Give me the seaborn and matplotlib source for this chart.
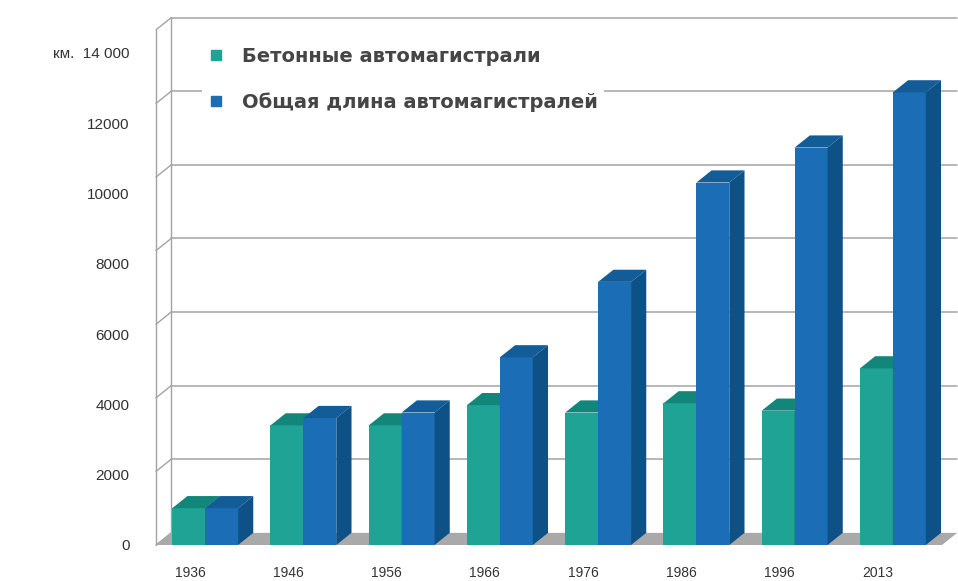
import matplotlib
matplotlib.use("Agg")
import matplotlib.pyplot as plt
from matplotlib.patches import Polygon
from matplotlib.lines import Line2D
import seaborn as sns
import pandas as pd

# Data: length of motorways, km
years = ["1936", "1946", "1956", "1966", "1976", "1986", "1996", "2013"]
concrete_km = [1000, 3250, 3250, 3800, 3600, 3850, 3650, 4800]
total_km = [1000, 3450, 3600, 5100, 7150, 9850, 10800, 12300]
series_names = ["Бетонные автомагистрали", "Общая длина автомагистралей"]
y_ticks = [0, 2000, 4000, 6000, 8000, 10000, 12000, 14000]
y_tick_labels = ["0", "2000", "4000", "6000", "8000", "10000", "12000", "км.  14 000"]

df = pd.DataFrame({
    "year": years * 2,
    "km": concrete_km + total_km,
    "series": [series_names[0]] * len(years) + [series_names[1]] * len(years),
})

TEAL = "#1ea395"
TEAL_TOP = "#13867a"
TEAL_SIDE = "#0f7a70"
BLUE = "#1b6db6"
BLUE_TOP = "#125c98"
BLUE_SIDE = "#0e5187"
GRID = "#a3a3a3"
TEXT = "#333333"

sns.set_theme(style="white")
plt.rcParams["font.family"] = ["Liberation Sans", "DejaVu Sans"]

W, H = 958, 581
fig = plt.figure(figsize=(W / 100, H / 100), dpi=100)
ax_left, ax_right, ax_bottom, ax_top = 156, 942, 545, 29.8
ax = fig.add_axes([ax_left / W, (H - ax_bottom) / H,
                   (ax_right - ax_left) / W, (ax_bottom - ax_top) / H])

sns.barplot(data=df, x="year", y="km", hue="series", order=years,
            hue_order=series_names, palette=[TEAL, BLUE], saturation=1,
            width=0.67, gap=0, legend=False, ax=ax)

ax.set_xlim(-0.5, 7.5)
ax.set_ylim(0, 14000)
for s in ax.spines.values():
    s.set_visible(False)
ax.set_ylabel("")
ax.set_xlabel("")
ax.set_yticks([])

# depth of the 3-D box, in data units
ddx = 0.155
ddy = 330

x0, x1 = -0.5, 7.5

# floor
ax.add_patch(Polygon([(x0, 0), (x1, 0), (x1 + ddx, ddy), (x0 + ddx, ddy)],
                     closed=True, facecolor="#a9a9a9", edgecolor="none",
                     zorder=1, clip_on=False))

# back wall grid and left wall
for v in y_ticks[1:]:
    ax.plot([x0 + ddx, x1 + ddx], [v + ddy, v + ddy], color=GRID, lw=1.1,
            zorder=0.5, clip_on=False)
for v in y_ticks:
    ax.plot([x0, x0 + ddx], [v, v + ddy], color=GRID, lw=1.0,
            zorder=0.6, clip_on=False)
ax.plot([x0, x0], [0, 14000], color=GRID, lw=1.0, zorder=0.6, clip_on=False)
ax.plot([x0 + ddx, x0 + ddx], [ddy, 14000 + ddy], color=GRID, lw=1.0,
        zorder=0.6, clip_on=False)

# 3-D tops and sides of the bars
face_styles = [(TEAL_TOP, TEAL_SIDE, 3), (BLUE_TOP, BLUE_SIDE, 5)]
for container, (top_c, side_c, z) in zip(ax.containers, face_styles):
    for bar in container:
        bar.set_zorder(z)
        bar.set_edgecolor("none")
        bx, bw, bh = bar.get_x(), bar.get_width(), bar.get_height()
        top = Polygon([(bx, bh), (bx + bw, bh), (bx + bw + ddx, bh + ddy),
                       (bx + ddx, bh + ddy)], closed=True, facecolor=top_c,
                      edgecolor="none", zorder=z + 0.5, clip_on=False)
        side = Polygon([(bx + bw, 0), (bx + bw, bh), (bx + bw + ddx, bh + ddy),
                        (bx + bw + ddx, ddy)], closed=True, facecolor=side_c,
                       edgecolor="none", zorder=z + 0.5, clip_on=False)
        ax.add_patch(top)
        ax.add_patch(side)

# year labels
ax.set_xticks(range(len(years)))
ax.set_xticklabels(years, fontsize=10, color=TEXT)
ax.tick_params(axis="x", length=0, pad=15)
shift = matplotlib.transforms.ScaledTranslation(-15 / 100, 0, fig.dpi_scale_trans)
for lbl in ax.get_xticklabels():
    lbl.set_transform(lbl.get_transform() + shift)

# value labels on the left
lab = fig.add_axes(ax.get_position(), sharex=None)
lab.set_ylim(196, 14656)
lab.patch.set_visible(False)
for s in lab.spines.values():
    s.set_visible(False)
lab.set_xticks([])
lab.set_yticks(y_ticks)
lab.set_yticklabels(y_tick_labels, fontsize=11, color=TEXT)
lab.tick_params(axis="y", length=0, pad=19)
lab.set_zorder(-1)

# legend
handles = [Line2D([], [], marker="s", linestyle="none", markersize=7,
                  markerfacecolor=c, markeredgecolor=c) for c in (TEAL, BLUE)]
leg = ax.legend(handles, series_names, loc="upper left",
                bbox_to_anchor=(202 / W, 1 - 41 / H), bbox_transform=fig.transFigure,
                frameon=True, facecolor="white", edgecolor="none", framealpha=1,
                prop={"family": "DejaVu Sans", "size": 14, "weight": "bold"},
                labelspacing=1.35, handletextpad=0.95, handlelength=0.8,
                borderpad=0.3, borderaxespad=0)
for t in leg.get_texts():
    t.set_color("#454545")
leg.set_zorder(10)

fig.savefig("out.png", dpi=100, facecolor="white")
